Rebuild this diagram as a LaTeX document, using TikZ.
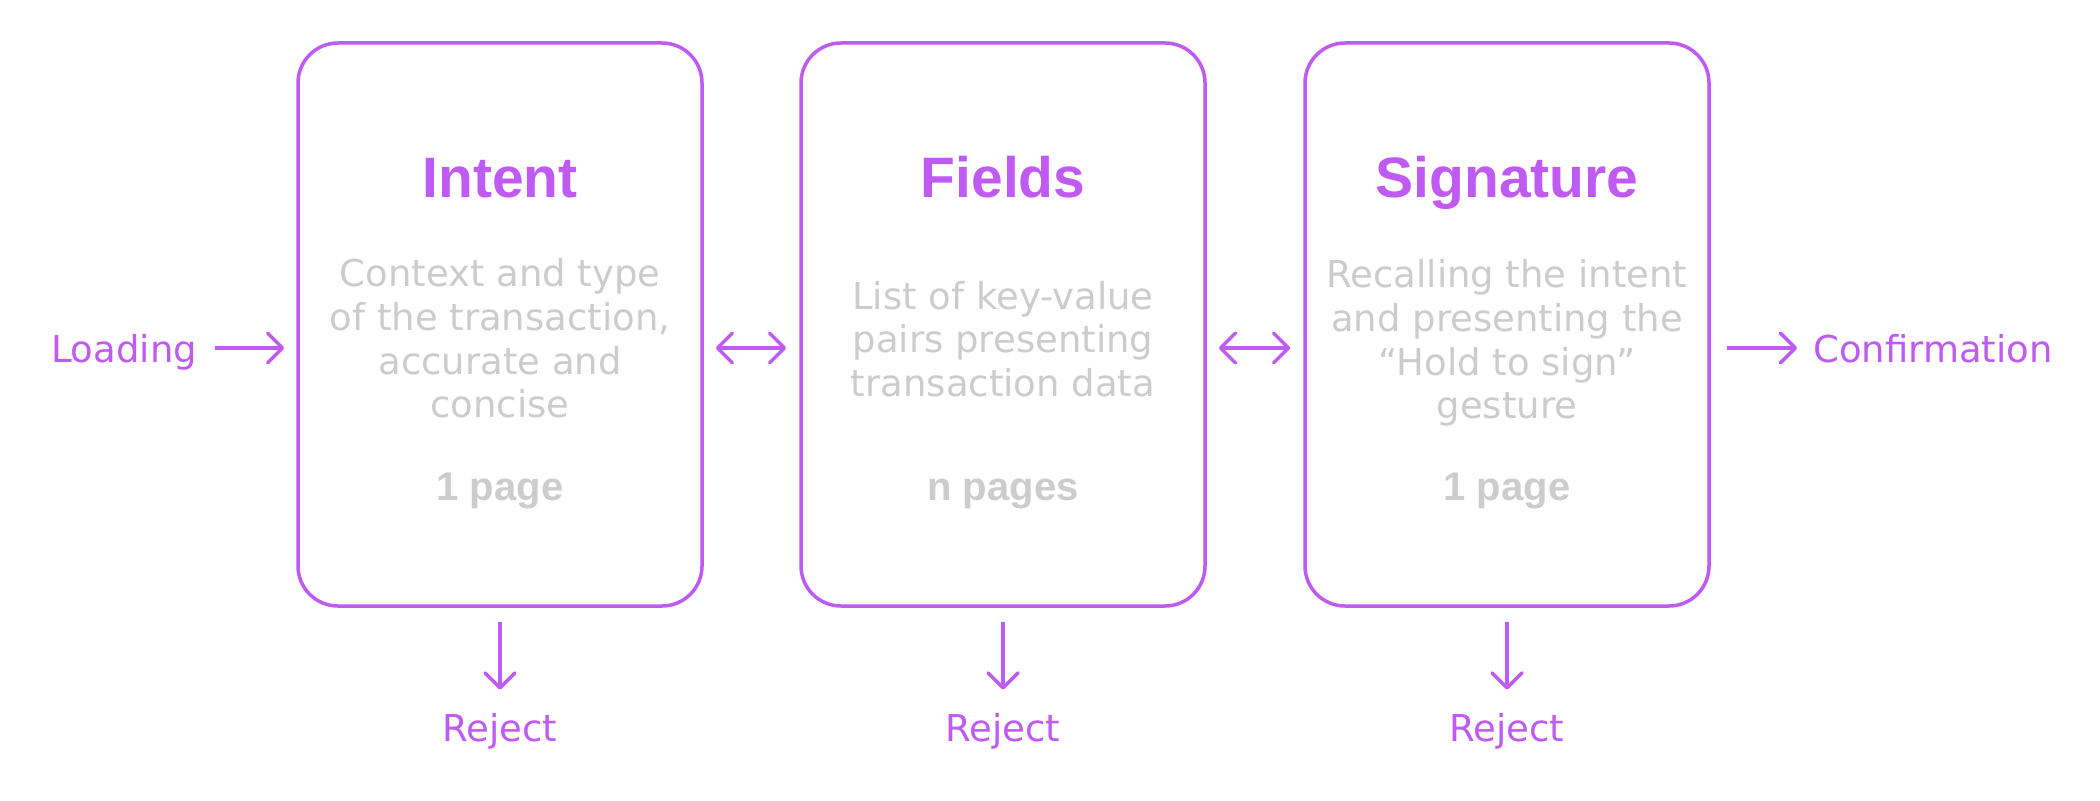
\documentclass[tikz,border=0pt]{standalone}
\usepackage{fontspec}
\setmainfont{DejaVu Sans}
\newfontfamily\lsans{Liberation Sans}
\usetikzlibrary{arrows.meta}
\definecolor{purp}{HTML}{BF5AF2}
\definecolor{grey}{HTML}{CCCCCC}
\begin{document}
\begin{tikzpicture}[x=1pt,y=-1pt,
 card/.style={draw=purp, line width=3.5pt, rounded corners=40pt, minimum width=404pt, minimum height=563pt, inner sep=0pt},
 ttl/.style={font=\lsans\bfseries\fontsize{57}{60}\selectfont, text=purp, anchor=base, inner sep=0pt},
 desc/.style={font=\fontsize{37}{43.7}\selectfont, text=grey, align=center, inner sep=0pt},
 pages/.style={font=\lsans\bfseries\fontsize{40}{44}\selectfont, text=grey, anchor=base, inner sep=0pt},
 lab/.style={font=\fontsize{37}{44}\selectfont, text=purp, inner sep=0pt, anchor=base},
 arr/.style={draw=purp, line width=3.5pt, -{Straight Barb[length=15pt,width=30pt,line width=3.5pt,round]}},
 darr/.style={draw=purp, line width=3.5pt, {Straight Barb[length=15pt,width=30pt,line width=3.5pt,round]}-{Straight Barb[length=15pt,width=30pt,line width=3.5pt,round]}},
]
\fill[white] (0,0) rectangle (2100,800);
\useasboundingbox (0,0) rectangle (2100,800);

\node[card] (b1) at (500,324.5) {};
\node[card] (b2) at (1003,324.5) {};
\node[card] (b3) at (1507,324.5) {};

\node[ttl] (t1) at (500,197) {Intent};
\node[ttl] (t2) at (1003,197) {Fields};
\node[ttl] (t3) at (1507,197) {Signature};

\node[desc] (d1) at (500,338.5) {Context and type\\of the transaction,\\accurate and\\concise};
\node[desc] (d2) at (1003,339) {List of key-value\\pairs presenting\\transaction data};
\node[desc] (d3) at (1507,343) {Recalling the intent\\and presenting the\\“Hold to sign”\\gesture};

\node[pages] (p1) at (500,500.5) {1 page};
\node[pages] (p2) at (1003,500.5) {n pages};
\node[pages] (p3) at (1507,500.5) {1 page};

\node[lab] (load) at (124,362) {Loading};
\node[lab] (conf) at (1933,362) {Confirmation};
\node[lab] (r1) at (500,741) {Reject};
\node[lab] (r2) at (1003,741) {Reject};
\node[lab] (r3) at (1507,741) {Reject};

\coordinate (ay) at (0,348);
\draw[arr, shorten <=18pt, shorten >=12pt] (load.east |- ay) -- (b1.west |- ay);
\draw[darr, shorten <=12pt, shorten >=13pt] (b1.east |- ay) -- (b2.west |- ay);
\draw[darr, shorten <=12pt, shorten >=13pt] (b2.east |- ay) -- (b3.west |- ay);
\draw[arr, shorten <=16pt, shorten >=16pt] (b3.east |- ay) -- (conf.west |- ay);

\draw[arr, shorten <=14pt, shorten >=23pt] (b1.south) -- (r1.north);
\draw[arr, shorten <=14pt, shorten >=23pt] (b2.south) -- (r2.north);
\draw[arr, shorten <=14pt, shorten >=23pt] (b3.south) -- (r3.north);
\end{tikzpicture}
\end{document}
